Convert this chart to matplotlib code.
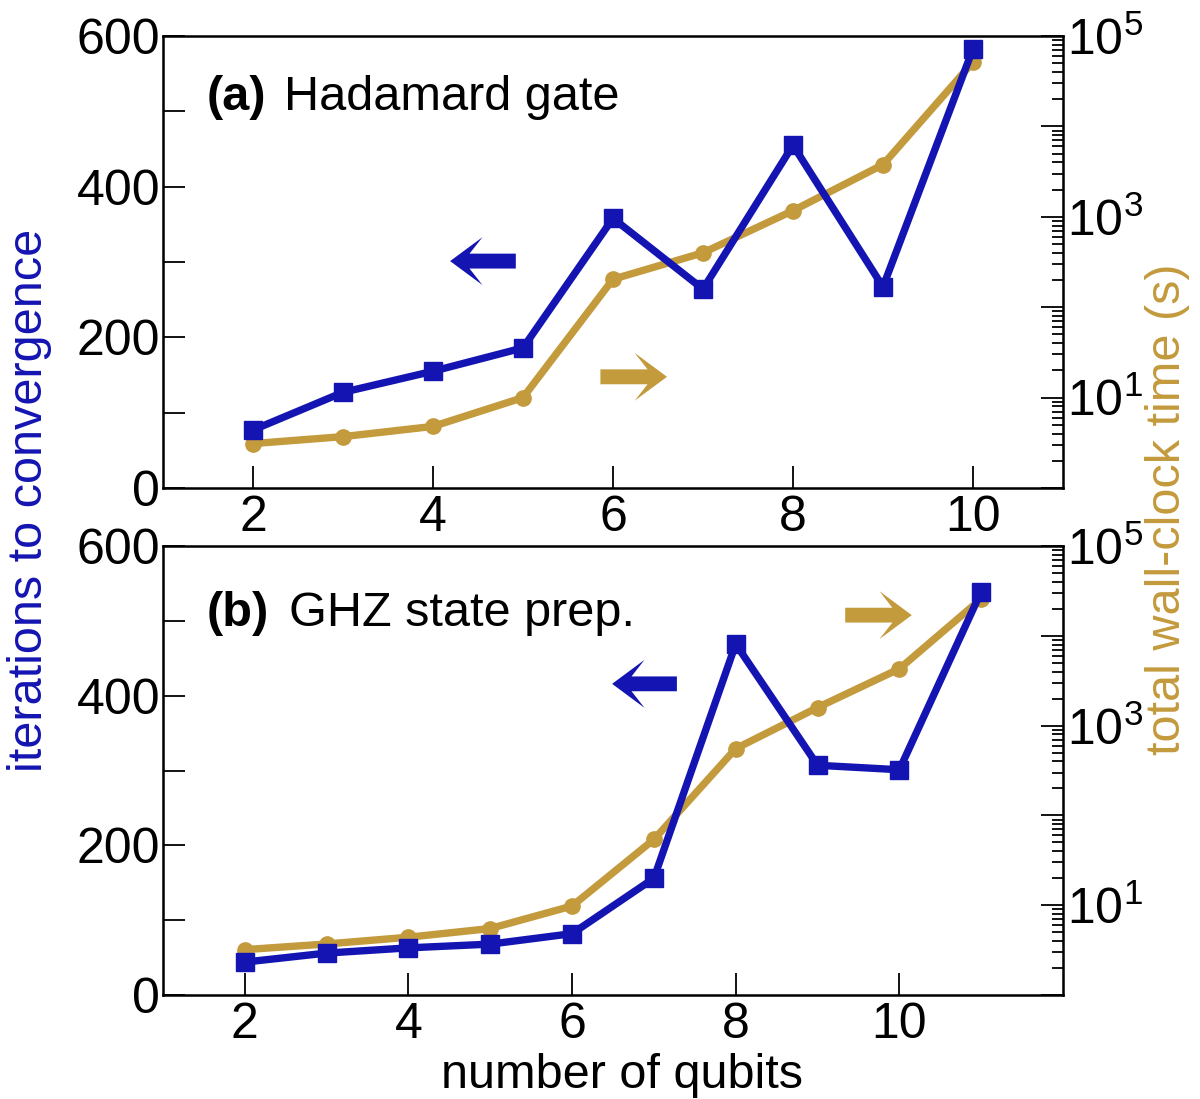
import matplotlib
matplotlib.use('Agg')
import matplotlib.pyplot as plt
from matplotlib.ticker import LogLocator, NullFormatter, FixedLocator, FixedFormatter

plt.rcParams['font.family'] = ['Liberation Sans', 'DejaVu Sans']
plt.rcParams['mathtext.fontset'] = 'custom'
plt.rcParams['mathtext.rm'] = 'Liberation Sans'
plt.rcParams['mathtext.it'] = 'Liberation Sans'

BLUE = '#1414b2'
GOLD = '#c39a3c'

# (a) Hadamard gate
qubits_a = [2, 3, 4, 5, 6, 7, 8, 9, 10]
iters_a = [77, 127, 155, 186, 358, 264, 455, 267, 583]
time_a = [3.1, 3.7, 4.8, 10, 204, 400, 1170, 3780, 51500]

# (b) GHZ state prep.
qubits_b = [2, 3, 4, 5, 6, 7, 8, 9, 10, 11]
iters_b = [44, 56, 63, 68, 82, 156, 469, 307, 301, 539]
time_b = [3.2, 3.7, 4.4, 5.5, 9.8, 54, 554, 1590, 4290, 25800]

fig = plt.figure(figsize=(12, 10.99), dpi=100)
W, H = 1200, 1099
ax1 = fig.add_axes([163/W, 1-488/H, 900/W, 452/H])
ax2 = fig.add_axes([163/W, 1-995/H, 900/W, 449/H])

FS = 35
TFS = 36


def setup(ax, xs, iters, times, xlim):
    ax.plot(xs, iters, '-s', color=BLUE, lw=5.3, ms=12.5, zorder=3)
    ax.set_xlim(*xlim)
    ax.set_ylim(0, 600)
    ax.set_xticks([2, 4, 6, 8, 10])
    ax.set_yticks([0, 200, 400, 600])
    ax.yaxis.set_minor_locator(FixedLocator([100, 300, 500]))
    ax.tick_params(axis='both', which='both', direction='in', labelsize=TFS,
                   length=16, width=1.3)
    ax.tick_params(axis='x', pad=5)
    ax.tick_params(axis='y', which='both', right=False, pad=2)
    for s in ax.spines.values():
        s.set_linewidth(1.8)

    axr = ax.twinx()
    axr.plot(xs, times, '-o', color=GOLD, lw=5.3, ms=11, zorder=2)
    axr.set_yscale('log')
    axr.set_ylim(1, 1e5)
    axr.yaxis.set_major_locator(FixedLocator([1, 10, 100, 1e3, 1e4, 1e5]))
    axr.yaxis.set_major_formatter(FixedFormatter(['', r'$10^1$', '', r'$10^3$', '', r'$10^5$']))
    axr.yaxis.set_minor_locator(LogLocator(base=10, subs=range(2, 10), numticks=20))
    axr.yaxis.set_minor_formatter(NullFormatter())
    axr.tick_params(axis='y', which='major', direction='in', length=16, width=1.3,
                    labelsize=TFS, pad=3)
    axr.tick_params(axis='y', which='minor', direction='in', length=8, width=1.3)
    ax.set_zorder(axr.get_zorder() + 1)
    ax.patch.set_visible(False)
    return axr


axr1 = setup(ax1, qubits_a, iters_a, time_a, (1, 11))
axr2 = setup(ax2, qubits_b, iters_b, time_b, (1, 12))


def arrow(ax, x0, x1, y, color, hw):
    ax.arrow(x0, y, x1 - x0, 0, transform=ax.transAxes, width=0.033,
             head_width=hw, head_length=0.036, overhang=0.4,
             length_includes_head=True, color=color, lw=0, zorder=5)


arrow(ax1, 0.392, 0.319, 0.502, BLUE, 0.106)
arrow(ax1, 0.486, 0.560, 0.246, GOLD, 0.106)
arrow(ax2, 0.571, 0.499, 0.693, BLUE, 0.107)
arrow(ax2, 0.758, 0.832, 0.846, GOLD, 0.107)

ax1.text(0.048, 0.865, '(a)', transform=ax1.transAxes, fontsize=FS,
         fontweight='bold', va='center')
ax1.text(0.134, 0.865, 'Hadamard gate', transform=ax1.transAxes, fontsize=FS,
         va='center')
ax2.text(0.048, 0.849, '(b)', transform=ax2.transAxes, fontsize=FS,
         fontweight='bold', va='center')
ax2.text(0.140, 0.849, 'GHZ state prep.', transform=ax2.transAxes, fontsize=FS,
         va='center')

fig.text(30/W, 1-500/H, 'iterations to convergence', color=BLUE, fontsize=FS,
         rotation=90, ha='center', va='center')
fig.text(1167/W, 1-509/H, 'total wall-clock time (s)', color=GOLD, fontsize=FS,
         rotation=90, ha='center', va='center')
fig.text(622/W, 1-1075/H, 'number of qubits', fontsize=FS, ha='center',
         va='center')

fig.savefig('out.png', dpi=100)
